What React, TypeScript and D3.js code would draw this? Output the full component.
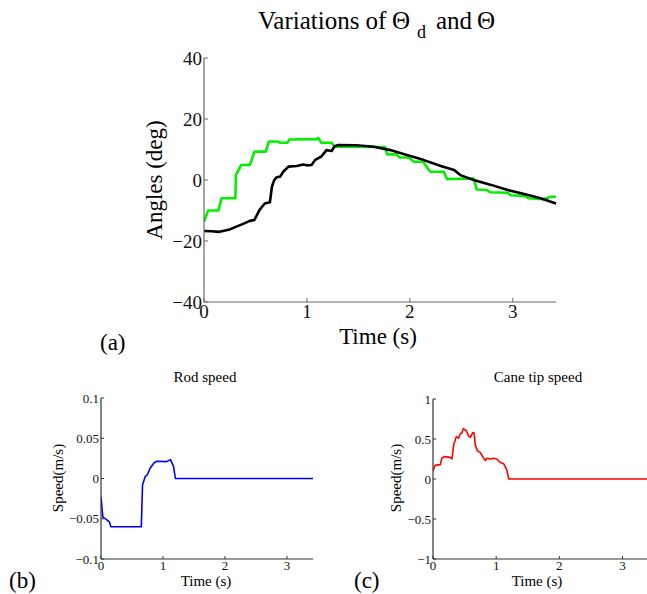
import React from "react";
import * as d3 from "d3";

// ---- Data ----
const thetaD: [number, number][] = [
  [0, -13.7], [0.04, -10], [0.14, -10], [0.17, -6], [0.305, -6], [0.31, 1.6], [0.36, 4.9],
  [0.445, 4.9], [0.49, 9.3], [0.6, 9.3], [0.63, 12.6], [0.72, 12.6], [0.74, 12.2], [0.81, 12.2],
  [0.83, 13.3], [1.09, 13.4], [1.11, 13.8], [1.14, 12.2], [1.24, 12.2], [1.27, 10.9],
  [1.76, 10.8], [1.78, 8.4], [1.87, 8.4], [1.9, 7.4], [1.99, 7.4], [2.04, 6.0], [2.13, 6.0],
  [2.16, 4.4], [2.2, 2.7], [2.33, 2.7], [2.36, 0.3], [2.62, 0.5], [2.65, -3.1], [2.75, -3.3],
  [2.78, -4.0], [2.95, -4.2], [2.98, -5.0], [3.12, -5.2], [3.15, -6.0], [3.3, -6.3],
  [3.37, -5.5], [3.42, -5.5],
];

const theta: [number, number][] = [
  [0, -16.7], [0.07, -16.8], [0.15, -17.0], [0.25, -16.2], [0.315, -15.3], [0.38, -14.4],
  [0.445, -13.4], [0.49, -13.1], [0.54, -9.8], [0.59, -7.7], [0.64, -7.3], [0.66, -2.2],
  [0.68, -0.2], [0.705, 0.9], [0.74, 1.1], [0.77, 2.7], [0.82, 4.4], [0.9, 4.6], [0.965, 5.1],
  [1.0, 4.8], [1.045, 4.9], [1.08, 6.6], [1.14, 7.7], [1.19, 9.8], [1.24, 9.5], [1.27, 11.1],
  [1.305, 11.5], [1.48, 11.4], [1.65, 10.9], [1.81, 9.8], [1.97, 8.2], [2.13, 6.6],
  [2.3, 4.6], [2.43, 3.3], [2.49, 1.6], [2.62, 0], [2.79, -1.6], [2.95, -3.3], [3.11, -4.6],
  [3.27, -6.0], [3.42, -7.7],
];

const rodSpeed: [number, number][] = [
  [0, -0.023], [0.03, -0.048], [0.09, -0.051], [0.135, -0.054], [0.16, -0.06], [0.65, -0.06],
  [0.67, -0.008], [0.71, 0.002], [0.75, 0.005], [0.79, 0.0125], [0.85, 0.019], [0.9, 0.0215],
  [1.06, 0.021], [1.12, 0.0235], [1.17, 0.015], [1.2, 0], [3.42, 0],
];

const caneSpeed: [number, number][] = [
  [0, 0.1], [0.03, 0.17], [0.115, 0.18], [0.14, 0.26], [0.18, 0.28], [0.27, 0.27], [0.3, 0.25],
  [0.33, 0.44], [0.35, 0.48], [0.37, 0.53], [0.405, 0.51], [0.43, 0.56], [0.46, 0.58],
  [0.48, 0.63], [0.53, 0.6], [0.56, 0.54], [0.59, 0.52], [0.63, 0.58], [0.65, 0.575],
  [0.67, 0.42], [0.705, 0.35], [0.75, 0.33], [0.8, 0.26], [0.83, 0.23], [0.85, 0.26],
  [0.905, 0.25], [0.96, 0.26], [1.01, 0.25], [1.06, 0.21], [1.12, 0.19], [1.17, 0.11],
  [1.2, 0], [3.42, 0],
];

const timeTicks = [0, 1, 2, 3];
const angleTicks = [-40, -20, 0, 20, 40];
const angleTickLabels = ["\u221240", "\u221220", "0", "20", "40"];
const rodTicks = [-0.1, -0.05, 0, 0.05, 0.1];
const rodTickLabels = ["\u22120.1", "\u22120.05", "0", "0.05", "0.1"];
const caneTicks = [-1, -0.5, 0, 0.5, 1];
const caneTickLabels = ["\u22121", "\u22120.5", "0", "0.5", "1"];

const FONT = "'Liberation Serif', 'DejaVu Serif', serif";
const SERIF = { fontFamily: FONT };

type PanelProps = {
  x0: number; x1: number; y0: number; y1: number;
  yDomain: [number, number];
  yTicks: number[]; yTickLabels: string[];
  series: { data: [number, number][]; color: string; width: number }[];
  tickFont: number; axisColor: string; tickLen: number;
  clipId: string;
};

function Panel(p: PanelProps) {
  const x = d3.scaleLinear().domain([0, 3.42]).range([p.x0, p.x1]);
  const y = d3.scaleLinear().domain(p.yDomain).range([p.y1, p.y0]);
  const line = d3.line<[number, number]>().x(d => x(d[0])).y(d => y(d[1]));
  return (
    <g>
      <defs>
        <clipPath id={p.clipId}>
          <rect x={p.x0} y={p.y0 - 2} width={p.x1 - p.x0 + 2} height={p.y1 - p.y0 + 4} />
        </clipPath>
      </defs>
      <g clipPath={`url(#${p.clipId})`}>
        {p.series.map((s, i) => (
          <path key={i} d={line(s.data) || ""} fill="none" stroke={s.color}
            strokeWidth={s.width} strokeLinejoin="round" />
        ))}
      </g>
      <line x1={p.x0} x2={p.x0} y1={p.y0} y2={p.y1} stroke={p.axisColor} strokeWidth={1.2} />
      <line x1={p.x0} x2={p.x1} y1={p.y1} y2={p.y1} stroke={p.axisColor} strokeWidth={1.2} />
      {p.yTicks.map((t, i) => (
        <g key={"y" + i}>
          <line x1={p.x0} x2={p.x0 + p.tickLen} y1={y(t)} y2={y(t)} stroke={p.axisColor} strokeWidth={1} />
          <text x={p.x0 - 2} y={y(t)} dy="0.35em" textAnchor="end" fontSize={p.tickFont}
            style={SERIF} fill="#111">{p.yTickLabels[i]}</text>
        </g>
      ))}
      {timeTicks.map((t, i) => (
        <g key={"x" + i}>
          <line x1={x(t)} x2={x(t)} y1={p.y1} y2={p.y1 - p.tickLen} stroke={p.axisColor} strokeWidth={1} />
          <text x={x(t)} y={p.y1 + p.tickFont * 0.85} textAnchor="middle" fontSize={p.tickFont}
            style={SERIF} fill="#111">{t}</text>
        </g>
      ))}
    </g>
  );
}

export default function App() {
  return (
    <svg width={647} height={594} style={{ display: "block", position: "absolute", left: 0, top: 0, fontFamily: FONT }}>
      <rect width={647} height={594} fill="#fff" />
      {/* Panel (a) title */}
      <text x={258} y={29} fontSize={25} fill="#000" style={SERIF}>Variations of</text>
      <text x={392} y={29} fontSize={25} fill="#000" style={SERIF}>{"\u0398"}</text>
      <text x={417} y={38} fontSize={18} fill="#000" style={SERIF}>d</text>
      <text x={436} y={29} fontSize={25} fill="#000" style={SERIF}>and</text>
      <text x={477} y={29} fontSize={25} fill="#000" style={SERIF}>{"\u0398"}</text>
      <Panel x0={204} x1={556} y0={58} y1={302} yDomain={[-40, 40]} yTicks={angleTicks}
        yTickLabels={angleTickLabels}
        series={[{ data: thetaD, color: "#00f000", width: 2.6 }, { data: theta, color: "#000", width: 2.6 }]}
        tickFont={19} axisColor="#666" tickLen={4} clipId="ca" />
      <text transform="translate(162,180) rotate(-90)" textAnchor="middle" fontSize={23} fill="#000" style={SERIF}>Angles (deg)</text>
      <text x={378} y={344} textAnchor="middle" fontSize={23} fill="#000" style={SERIF}>Time (s)</text>
      <text x={100} y={350} fontSize={23} fill="#000" style={SERIF}>(a)</text>

      {/* Panel (b) */}
      <text x={205} y={382} textAnchor="middle" fontSize={15} fill="#000" style={SERIF}>Rod speed</text>
      <Panel x0={101} x1={313} y0={398} y1={559} yDomain={[-0.1, 0.1]} yTicks={rodTicks}
        yTickLabels={rodTickLabels}
        series={[{ data: rodSpeed, color: "#0000ff", width: 1.6 }]}
        tickFont={13} axisColor="#333" tickLen={3} clipId="cb" />
      <text transform="translate(63,478) rotate(-90)" textAnchor="middle" fontSize={15} fill="#000" style={SERIF}>Speed(m/s)</text>
      <text x={206} y={586} textAnchor="middle" fontSize={15} fill="#000" style={SERIF}>Time (s)</text>
      <text x={9} y={588} fontSize={23} fill="#000" style={SERIF}>(b)</text>

      {/* Panel (c) */}
      <text x={538} y={382} textAnchor="middle" fontSize={15} fill="#000" style={SERIF}>Cane tip speed</text>
      <Panel x0={433} x1={649} y0={399} y1={559} yDomain={[-1, 1]} yTicks={caneTicks}
        yTickLabels={caneTickLabels}
        series={[{ data: caneSpeed, color: "#ff0000", width: 1.6 }]}
        tickFont={13} axisColor="#333" tickLen={3} clipId="cc" />
      <text transform="translate(401,478) rotate(-90)" textAnchor="middle" fontSize={15} fill="#000" style={SERIF}>Speed(m/s)</text>
      <text x={537} y={586} textAnchor="middle" fontSize={15} fill="#000" style={SERIF}>Time (s)</text>
      <text x={354} y={588} fontSize={23} fill="#000" style={SERIF}>(c)</text>
    </svg>
  );
}
